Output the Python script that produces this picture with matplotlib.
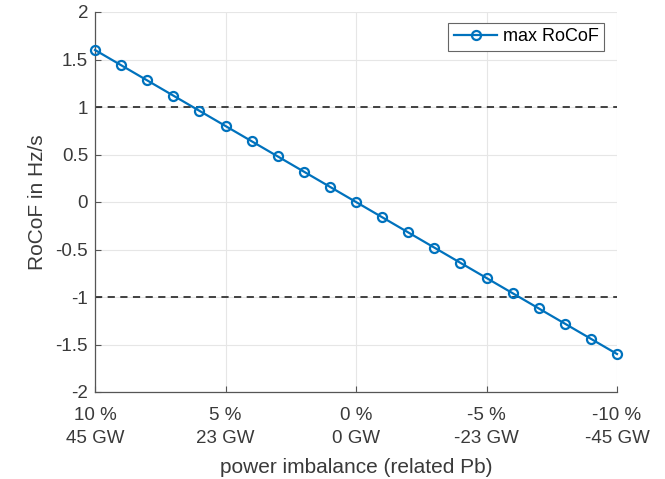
import matplotlib
matplotlib.use("Agg")
import matplotlib.pyplot as plt

imbalance_pct = [10, 9, 8, 7, 6, 5, 4, 3, 2, 1, 0, -1, -2, -3, -4, -5, -6, -7, -8, -9, -10]
max_rocof = [1.6, 1.44, 1.28, 1.12, 0.96, 0.8, 0.64, 0.48, 0.32, 0.16, 0.0,
             -0.16, -0.32, -0.48, -0.64, -0.8, -0.96, -1.12, -1.28, -1.44, -1.6]
xtick_pos = [10, 5, 0, -5, -10]
xtick_labels = ["10 %\n45 GW", "5 %\n23 GW", "0 %\n0 GW", "-5 %\n-23 GW", "-10 %\n-45 GW"]
ytick_pos = [-2, -1.5, -1, -0.5, 0, 0.5, 1, 1.5, 2]
ytick_labels = ["-2", "-1.5", "-1", "-0.5", "0", "0.5", "1", "1.5", "2"]
limits = [1, -1]

plt.rcParams['font.family'] = ['Liberation Sans', 'DejaVu Sans']
fig = plt.figure(figsize=(6.65, 4.79), dpi=100)
L, R, T, B = 95, 617, 12, 392
ax = fig.add_axes([L/665, 1-B/479, (R-L)/665, (B-T)/479])

blue = "#0072BD"
ax.plot(imbalance_pct, max_rocof, color=blue, lw=1.6, marker='o', ms=6.5,
        mfc='none', mec=blue, mew=1.6, label='max RoCoF', zorder=3, clip_on=False)
for lv in limits:
    ax.axhline(lv, color='#333333', ls=(0, (4, 3)), lw=1.3, zorder=2)

ax.set_xlim(10, -10)
ax.set_ylim(-2, 2)
ax.set_xticks(xtick_pos)
ax.set_xticklabels(xtick_labels, linespacing=1.47)
ax.set_yticks(ytick_pos)
ax.set_yticklabels(ytick_labels)
ax.grid(True, color='#e6e6e6', lw=0.8)
ax.set_axisbelow(True)
for s in ['top', 'right']:
    ax.spines[s].set_visible(False)
for s in ['left', 'bottom']:
    ax.spines[s].set_color('#555555')
    ax.spines[s].set_linewidth(0.9)
ax.tick_params(axis='both', colors='#555555', labelcolor='#3a3a3a', labelsize=13.5,
               direction='in', length=4, width=0.8)
ax.tick_params(axis='x', pad=11)
ax.tick_params(axis='y', pad=5)
ax.set_xlabel("power imbalance (related Pb)", fontsize=15, color='#3a3a3a', labelpad=8)
ax.set_ylabel("RoCoF in Hz/s", fontsize=15, color='#3a3a3a', labelpad=6)
leg = ax.legend(loc='upper right', bbox_to_anchor=(0.975, 0.971), borderaxespad=0,
                fontsize=13, fancybox=False, framealpha=1, edgecolor='#666666',
                handlelength=2.4, borderpad=0.3, handletextpad=0.3)
leg.get_frame().set_linewidth(0.8)
fig.savefig("out.png", dpi=100)
